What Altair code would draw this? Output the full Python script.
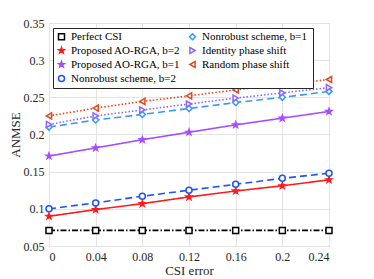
import altair as alt
import pandas as pd

csi_error = [0, 0.04, 0.08, 0.12, 0.16, 0.2, 0.24]

series_names = [
    "Perfect CSI",
    "Proposed AO-RGA, b=2",
    "Proposed AO-RGA, b=1",
    "Nonrobust scheme,  b=2",
    "Nonrobust scheme,  b=1",
    "Identity phase shift",
    "Random phase shift",
]

perfect_csi = [0.071, 0.071, 0.071, 0.071, 0.071, 0.071, 0.071]
proposed_b2 = [0.090, 0.099, 0.107, 0.116, 0.124, 0.131, 0.139]
proposed_b1 = [0.171, 0.182, 0.193, 0.203, 0.213, 0.222, 0.231]
nonrobust_b2 = [0.100, 0.108, 0.117, 0.125, 0.133, 0.141, 0.148]
nonrobust_b1 = [0.210, 0.2195, 0.227, 0.235, 0.243, 0.250, 0.258]
identity_ps = [0.2135, 0.225, 0.233, 0.241, 0.249, 0.256, 0.263]
random_ps = [0.225, 0.2355, 0.2445, 0.252, 0.260, 0.267, 0.274]

values = {
    "Perfect CSI": perfect_csi,
    "Proposed AO-RGA, b=2": proposed_b2,
    "Proposed AO-RGA, b=1": proposed_b1,
    "Nonrobust scheme,  b=2": nonrobust_b2,
    "Nonrobust scheme,  b=1": nonrobust_b1,
    "Identity phase shift": identity_ps,
    "Random phase shift": random_ps,
}

colors = {
    "Perfect CSI": "#000000",
    "Proposed AO-RGA, b=2": "#ff1a1a",
    "Proposed AO-RGA, b=1": "#a64dff",
    "Nonrobust scheme,  b=2": "#1a53ff",
    "Nonrobust scheme,  b=1": "#3399ff",
    "Identity phase shift": "#8c66ff",
    "Random phase shift": "#e8471c",
}
STAR = "M0,-1L0.24,-0.33L0.95,-0.31L0.38,0.12L0.59,0.81L0,0.4L-0.59,0.81L-0.38,0.12L-0.95,-0.31L-0.24,-0.33Z"
shapes = {
    "Perfect CSI": "square",
    "Proposed AO-RGA, b=2": STAR,
    "Proposed AO-RGA, b=1": STAR,
    "Nonrobust scheme,  b=2": "circle",
    "Nonrobust scheme,  b=1": "diamond",
    "Identity phase shift": "triangle-right",
    "Random phase shift": "triangle-left",
}
fills = {
    "Perfect CSI": "white",
    "Proposed AO-RGA, b=2": "#ff1a1a",
    "Proposed AO-RGA, b=1": "#a64dff",
    "Nonrobust scheme,  b=2": "white",
    "Nonrobust scheme,  b=1": "white",
    "Identity phase shift": "white",
    "Random phase shift": "white",
}
dashes = {
    "Perfect CSI": [6, 2, 1.5, 2],
    "Proposed AO-RGA, b=2": [1, 0],
    "Proposed AO-RGA, b=1": [1, 0],
    "Nonrobust scheme,  b=2": [7, 4],
    "Nonrobust scheme,  b=1": [7, 4],
    "Identity phase shift": [1.5, 2],
    "Random phase shift": [1.5, 2],
}

rows = []
for name in series_names:
    for x, y in zip(csi_error, values[name]):
        rows.append({"series": name, "x": x, "y": y})
df = pd.DataFrame(rows)

SERIF = "Liberation Serif"

dom = series_names
color_scale = alt.Scale(domain=dom, range=[colors[n] for n in dom])
shape_scale = alt.Scale(domain=dom, range=[shapes[n] for n in dom])
fill_scale = alt.Scale(domain=dom, range=[fills[n] for n in dom])
dash_scale = alt.Scale(domain=dom, range=[dashes[n] for n in dom])

xenc = alt.X("x:Q", scale=alt.Scale(domain=[0, 0.24], nice=False),
             axis=alt.Axis(values=csi_error, format=".2~f", title="CSI error"))
yenc = alt.Y("y:Q", scale=alt.Scale(domain=[0.05, 0.35], nice=False),
             axis=alt.Axis(values=[0.05, 0.1, 0.15, 0.2, 0.25, 0.3, 0.35], format=".2~f", title="ANMSE"))

leg = alt.Legend(
    title=None, orient="none", legendX=4, legendY=5, columns=2,
    columnPadding=5, rowPadding=1, labelFont=SERIF, labelFontSize=11,
    labelColor="#000000", symbolSize=36, symbolStrokeWidth=1.5,
    strokeColor="#262626", fillColor="white", padding=3, labelLimit=200,
    labelOffset=4)

lines = alt.Chart(df).mark_line(strokeWidth=1.6).encode(
    x=xenc, y=yenc,
    color=alt.Color("series:N", scale=color_scale, legend=None),
    strokeDash=alt.StrokeDash("series:N", scale=dash_scale, legend=None),
    detail="series:N",
)

points = alt.Chart(df).mark_point(size=36, strokeWidth=1.5, filled=True, opacity=1).encode(
    x=xenc, y=yenc,
    stroke=alt.Stroke("series:N", scale=color_scale, legend=leg),
    shape=alt.Shape("series:N", scale=shape_scale, legend=leg),
    fill=alt.Fill("series:N", scale=fill_scale, legend=leg),
)

chart = alt.layer(lines, points).resolve_legend(
    color="independent", strokeDash="independent", stroke="independent",
    shape="independent", fill="independent",
).properties(
    width=280, height=223,
    padding={"left": 41, "top": 15, "right": 37, "bottom": 33},
    autosize=alt.AutoSizeParams(type="none"),
).configure_view(stroke="#9a9a9a", strokeWidth=1).configure_axis(
    labelFont=SERIF, titleFont=SERIF,
    labelFontSize=12, titleFontSize=13, labelColor="#262626", titleColor="#262626",
    titleFontWeight="normal", gridColor="#e3e3e3", domain=False, tickSize=0,
    labelPadding=5,
).configure_axisX(titlePadding=2).configure_axisY(titlePadding=1).configure_legend(
    labelFont=SERIF
)

chart.save("out.html", embed_options={"renderer": "svg", "actions": False})
